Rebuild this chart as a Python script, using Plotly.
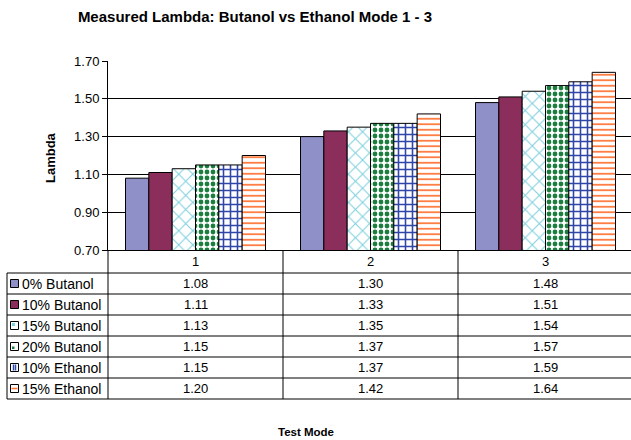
import plotly.graph_objects as go

# ---- data ----
modes = ["1", "2", "3"]
series_names = ["0% Butanol", "10% Butanol", "15% Butanol", "20% Butanol", "10% Ethanol", "15% Ethanol"]
butanol_0 = [1.08, 1.30, 1.48]
butanol_10 = [1.11, 1.33, 1.51]
butanol_15 = [1.13, 1.35, 1.54]
butanol_20 = [1.15, 1.37, 1.57]
ethanol_10 = [1.15, 1.37, 1.59]
ethanol_15 = [1.20, 1.42, 1.64]
y_tick_vals = [0.70, 0.90, 1.10, 1.30, 1.50, 1.70]
y_tick_text = ["0.70", "0.90", "1.10", "1.30", "1.50", "1.70"]

series_values = [butanol_0, butanol_10, butanol_15, butanol_20, ethanol_10, ethanol_15]

# ---- styles ----
FONT = "Liberation Sans, Arial, sans-serif"
styles = [
    dict(color="#9090C8", pattern=None),
    dict(color="#8C2E5C", pattern=None),
    dict(color="#7FD0DE", pattern=dict(shape="x", size=10, solidity=0.2)),
    dict(color="#1B7E3E", pattern=dict(shape=".", size=6, solidity=0.5)),
    dict(color="#2F45A8", pattern=dict(shape="+", size=7, solidity=0.4)),
    dict(color="#FF6F2E", pattern=dict(shape="-", size=5.5, solidity=0.3)),
]

W, H = 631, 440
L, R, T, B = 108, 0, 61, 190
plot_w = W - L - R
plot_h = H - T - B
axis_bottom_px = H - B  # 250


def py(pix):
    return (axis_bottom_px - pix) / plot_h


def px(pix):
    return (pix - L) / plot_w


fig = go.Figure()
for name, vals, st in zip(series_names, series_values, styles):
    marker = dict(color=st["color"], line=dict(color="black", width=1))
    if st["pattern"] is not None:
        p = dict(st["pattern"])
        p.update(fgcolor=st["color"], bgcolor="white", fillmode="replace")
        marker = dict(color="white", line=dict(color="black", width=1), pattern=p)
    fig.add_trace(go.Bar(name=name, x=modes, y=vals, marker=marker, showlegend=False))

shapes = []
annotations = []

# table geometry (pixels)
header_top = 250
row_lines = [273, 294, 315, 336, 357, 378, 399]
table_left = 7

# horizontal lines
for yy in row_lines:
    shapes.append(dict(type="line", xref="paper", yref="paper", x0=px(table_left), x1=1,
                       y0=py(yy), y1=py(yy), line=dict(color="black", width=1)))
# vertical lines
shapes.append(dict(type="line", xref="paper", yref="paper", x0=px(table_left), x1=px(table_left),
                   y0=py(row_lines[0]), y1=py(row_lines[-1]), line=dict(color="black", width=1)))
shapes.append(dict(type="line", xref="paper", yref="paper", x0=0, x1=0,
                   y0=py(header_top), y1=py(row_lines[-1]), line=dict(color="black", width=1)))
for k in range(1, len(modes)):
    shapes.append(dict(type="line", xref="x", yref="paper", x0=k - 0.5, x1=k - 0.5,
                       y0=py(header_top), y1=py(row_lines[-1]), line=dict(color="black", width=1)))

txt_font = dict(family=FONT, size=13, color="black")
lbl_font = dict(family=FONT, size=14, color="black")

# header row labels
hdr_center = (header_top + row_lines[0]) / 2
for j, m in enumerate(modes):
    annotations.append(dict(x=j, xref="x", y=py(hdr_center), yref="paper", text=m,
                            xanchor="center", yanchor="middle", showarrow=False, font=txt_font))

# data rows
for i, (name, vals, st) in enumerate(zip(series_names, series_values, styles)):
    top, bot = row_lines[i], row_lines[i + 1]
    cy = (top + bot) / 2
    for j, v in enumerate(vals):
        annotations.append(dict(x=j, xref="x", y=py(cy), yref="paper", text=f"{v:.2f}",
                                xanchor="center", yanchor="middle", showarrow=False, font=txt_font))
    annotations.append(dict(x=px(20), xref="paper", y=py(cy), yref="paper", text=name,
                            xanchor="left", yanchor="middle", showarrow=False, font=lbl_font))
    # legend key
    kx0, kx1 = 10.5, 18.5
    ky0, ky1 = cy - 4, cy + 4
    fill = st["color"] if st["pattern"] is None else "white"
    shapes.append(dict(type="rect", xref="paper", yref="paper", x0=px(kx0), x1=px(kx1),
                       y0=py(ky1), y1=py(ky0), fillcolor=fill, line=dict(color="black", width=1)))
    if st["pattern"] is not None:
        shp = st["pattern"]["shape"]
        c = st["color"]
        if shp == "x":
            shapes.append(dict(type="rect", xref="paper", yref="paper", x0=px(kx0 + 1.5), x1=px(kx0 + 4.5),
                               y0=py(ky0 + 4.5), y1=py(ky0 + 1.5), fillcolor=c, line=dict(width=0)))
        elif shp == ".":
            shapes.append(dict(type="rect", xref="paper", yref="paper", x0=px(kx0 + 1.5), x1=px(kx0 + 4),
                               y0=py(ky1 - 1.5), y1=py(ky1 - 4), fillcolor=c, line=dict(width=0)))
        elif shp == "+":
            for dx in (3, 5):
                shapes.append(dict(type="line", xref="paper", yref="paper", x0=px(kx0 + dx), x1=px(kx0 + dx),
                                   y0=py(ky0 + 1), y1=py(ky1 - 1), line=dict(color=c, width=1.5)))
        elif shp == "-":
            shapes.append(dict(type="line", xref="paper", yref="paper", x0=px(kx0 + 1), x1=px(kx1 - 1),
                               y0=py(cy), y1=py(cy), line=dict(color=c, width=1.5)))

# axis titles
annotations.append(dict(x=px(50), xref="paper", y=py(158), yref="paper", text="<b>Lambda</b>",
                        xanchor="center", yanchor="middle",
                        textangle=-90, showarrow=False, font=dict(family=FONT, size=13, color="black")))
annotations.append(dict(x=px(306), xref="paper", y=py(432), yref="paper", text="<b>Test Mode</b>",
                        xanchor="center", yanchor="middle",
                        showarrow=False, font=dict(family=FONT, size=11.5, color="black")))

fig.update_layout(
    width=W, height=H,
    margin=dict(l=L, r=R, t=T, b=B, pad=0),
    paper_bgcolor="white", plot_bgcolor="white",
    barmode="group", bargap=0.2, bargroupgap=0,
    title=dict(text="<b>Measured Lambda: Butanol vs Ethanol Mode 1 - 3</b>", xref="paper", yref="container",
               x=(255 - L) / plot_w, xanchor="center", y=1 - 17 / H, yanchor="middle",
               font=dict(family=FONT, size=15, color="black")),
    xaxis=dict(type="category", range=[-0.5, -0.5 + plot_w / 175], showticklabels=False,
               showline=True, linecolor="black", linewidth=1, showgrid=False, zeroline=False,
               ticks=""),
    yaxis=dict(range=[0.70, 1.70], tickvals=y_tick_vals, ticktext=y_tick_text,
               showline=True, linecolor="black", linewidth=1, ticks="outside", ticklen=5,
               tickcolor="black", gridcolor="black", gridwidth=1, zeroline=False,
               tickfont=dict(family=FONT, size=13, color="black")),
    shapes=shapes, annotations=annotations,
    showlegend=False,
)

fig.write_html("out.html", config={"displayModeBar": False},
               post_script="document.body.style.margin='0';document.body.style.overflow='hidden';")
